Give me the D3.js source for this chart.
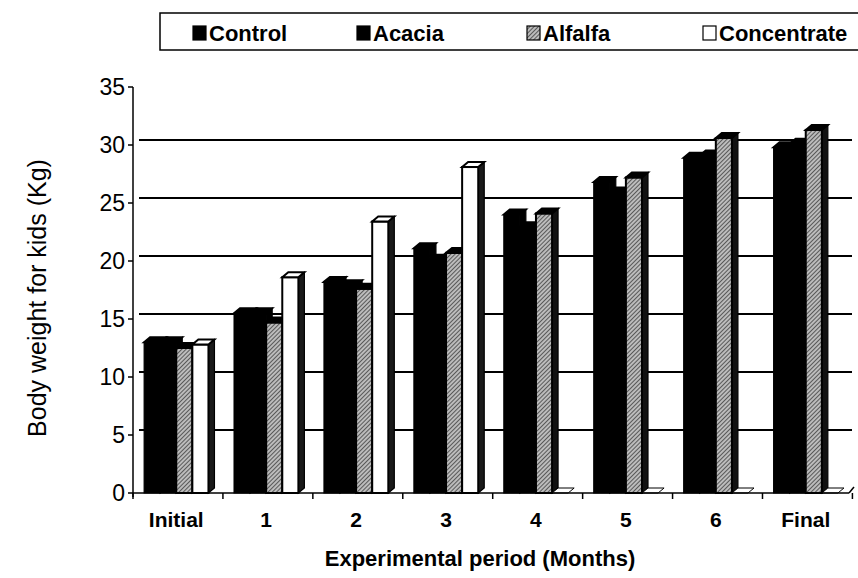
<!DOCTYPE html>
<html>
<head>
<meta charset="utf-8">
<script src="https://cdn.jsdelivr.net/npm/d3@7"></script>
<style>
  body { margin: 0; background: #fff; }
  svg { display: block; font-family: "Liberation Sans", Arial, sans-serif; }
</style>
</head>
<body>
<div id="chart"></div>
<script>
// data
var categories = ["Initial", "1", "2", "3", "4", "5", "6", "Final"];
var seriesNames = ["Control", "Acacia", "Alfalfa", "Concentrate"];
var control = [13.0, 15.5, 18.2, 21.1, 24.0, 26.8, 28.9, 29.8];
var acacia = [13.0, 15.5, 17.9, 20.1, 22.9, 25.9, 29.1, 30.1];
var alfalfa = [12.5, 14.7, 17.6, 20.7, 24.1, 27.2, 30.6, 31.3];
var concentrate = [12.8, 18.6, 23.4, 28.1, 0, 0, 0, 0];
var yTicks = [0, 5, 10, 15, 20, 25, 30, 35];

var width = 858, height = 578;
var depthX = 6, depthY = -5;   // fake 3d depth of bars / back wall

var svg = d3.select("#chart").append("svg")
  .attr("width", width)
  .attr("height", height);

// hatch pattern for Alfalfa
var defs = svg.append("defs");
var hatch = defs.append("pattern")
  .attr("id", "hatch")
  .attr("patternUnits", "userSpaceOnUse")
  .attr("width", 3)
  .attr("height", 3)
  .attr("patternTransform", "rotate(45)");
hatch.append("rect").attr("width", 3).attr("height", 3).attr("fill", "#bcbcbc");
hatch.append("line")
  .attr("x1", 0).attr("y1", 0).attr("x2", 0).attr("y2", 3)
  .attr("stroke", "#222").attr("stroke-width", 1.3);

var x0 = d3.scaleBand()
  .domain(categories)
  .range([133, 849])
  .paddingInner(0.284)
  .paddingOuter(0.123);

var x1 = d3.scaleBand()
  .domain(seriesNames)
  .range([0, x0.bandwidth()]);

var y = d3.scaleLinear()
  .domain([0, 35])
  .range([493, 87]);

var values = {
  "Control": control,
  "Acacia": acacia,
  "Alfalfa": alfalfa,
  "Concentrate": concentrate
};

var frontFill = { "Control": "#000", "Acacia": "#000", "Alfalfa": "url(#hatch)", "Concentrate": "#fff" };
var sideFill = { "Control": "#000", "Acacia": "#000", "Alfalfa": "#111", "Concentrate": "#1a1a1a" };

// back wall gridlines
svg.append("g")
  .selectAll("line")
  .data(yTicks.filter(function(d) { return d > 0 && d < 35; }))
  .enter().append("line")
  .attr("x1", 133 + depthX)
  .attr("x2", 852)
  .attr("y1", function(d) { return y(d) + depthY; })
  .attr("y2", function(d) { return y(d) + depthY; })
  .attr("stroke", "#000")
  .attr("stroke-width", 2);

// bars, drawn left to right so each front face covers the neighbour's side
var gBars = svg.append("g");
categories.forEach(function(cat, ci) {
  seriesNames.forEach(function(s) {
    var v = values[s][ci];
    var xl = x0(cat) + x1(s);
    var xr = xl + x1.bandwidth();
    var yt = y(v);
    var yb = y(0);
    var g = gBars.append("g");
    if (v > 0) {
      g.append("polygon")
        .attr("points", [[xr, yt], [xr + depthX, yt + depthY], [xr + depthX, yb + depthY], [xr, yb]].join(" "))
        .attr("fill", sideFill[s])
        .attr("stroke", "#000")
        .attr("stroke-width", 1.2);
      g.append("rect")
        .attr("x", xl)
        .attr("y", yt)
        .attr("width", xr - xl)
        .attr("height", yb - yt)
        .attr("fill", frontFill[s])
        .attr("stroke", "#000")
        .attr("stroke-width", s == "Concentrate" || s == "Alfalfa" ? 2 : 1);
    }
    g.append("polygon")
      .attr("points", [[xl, yt], [xl + depthX, yt + depthY], [xr + depthX, yt + depthY], [xr, yt]].join(" "))
      .attr("fill", s == "Concentrate" ? "#fff" : "#000")
      .attr("stroke", "#000")
      .attr("stroke-width", v > 0 ? 2 : 1);
  });
});

// y axis
svg.append("line")
  .attr("x1", 133).attr("x2", 133)
  .attr("y1", y(35)).attr("y2", y(0) + 4)
  .attr("stroke", "#000").attr("stroke-width", 1.5);
var gy = svg.append("g");
gy.selectAll("line")
  .data(yTicks)
  .enter().append("line")
  .attr("x1", 128).attr("x2", 133)
  .attr("y1", function(d) { return y(d); })
  .attr("y2", function(d) { return y(d); })
  .attr("stroke", "#000").attr("stroke-width", 1.5);
gy.selectAll("text")
  .data(yTicks)
  .enter().append("text")
  .attr("x", 125)
  .attr("y", function(d) { return y(d); })
  .attr("dy", "0.36em")
  .attr("text-anchor", "end")
  .attr("font-size", 23)
  .text(function(d) { return d; });

// x axis (front edge of floor)
svg.append("line")
  .attr("x1", 133).attr("x2", 849)
  .attr("y1", y(0)).attr("y2", y(0))
  .attr("stroke", "#000").attr("stroke-width", 1.5);
svg.append("line")
  .attr("x1", 849).attr("x2", 854)
  .attr("y1", y(0)).attr("y2", y(0) + depthY - 1)
  .attr("stroke", "#000").attr("stroke-width", 1.5);
var step = x0.step();
var gx = svg.append("g");
gx.selectAll("line")
  .data(d3.range(categories.length + 1))
  .enter().append("line")
  .attr("x1", function(i) { return 133 + i * step; })
  .attr("x2", function(i) { return 133 + i * step; })
  .attr("y1", y(0)).attr("y2", y(0) + 6)
  .attr("stroke", "#000").attr("stroke-width", 1.5);
gx.selectAll("text")
  .data(categories)
  .enter().append("text")
  .attr("x", function(d) { return x0(d) + x0.bandwidth() / 2; })
  .attr("y", 527)
  .attr("text-anchor", "middle")
  .attr("font-size", 21)
  .attr("font-weight", "bold")
  .text(function(d) { return d; });

// axis titles
svg.append("text")
  .attr("x", 480)
  .attr("y", 566)
  .attr("text-anchor", "middle")
  .attr("font-size", 22)
  .attr("font-weight", "bold")
  .text("Experimental period (Months)");
svg.append("text")
  .attr("transform", "translate(46,298) rotate(-90)")
  .attr("text-anchor", "middle")
  .attr("font-size", 25)
  .text("Body weight for kids (Kg)");

// legend box, runs off the right edge like in the scan
var legend = svg.append("g");
legend.append("rect")
  .attr("x", 160).attr("y", 13)
  .attr("width", 720).attr("height", 37)
  .attr("fill", "#fff")
  .attr("stroke", "#000").attr("stroke-width", 1.5);
var legendX = [193, 357, 527, 703];
seriesNames.forEach(function(s, i) {
  var lx = legendX[i];
  legend.append("rect")
    .attr("x", lx).attr("y", 26)
    .attr("width", 13).attr("height", 14)
    .attr("fill", s == "Alfalfa" ? "url(#hatch)" : (s == "Concentrate" ? "#fff" : "#000"))
    .attr("stroke", "#000").attr("stroke-width", 1.2);
  legend.append("text")
    .attr("x", lx + 16).attr("y", 41)
    .attr("font-size", 22)
    .attr("font-weight", "bold")
    .text(s);
});
</script>
</body>
</html>
